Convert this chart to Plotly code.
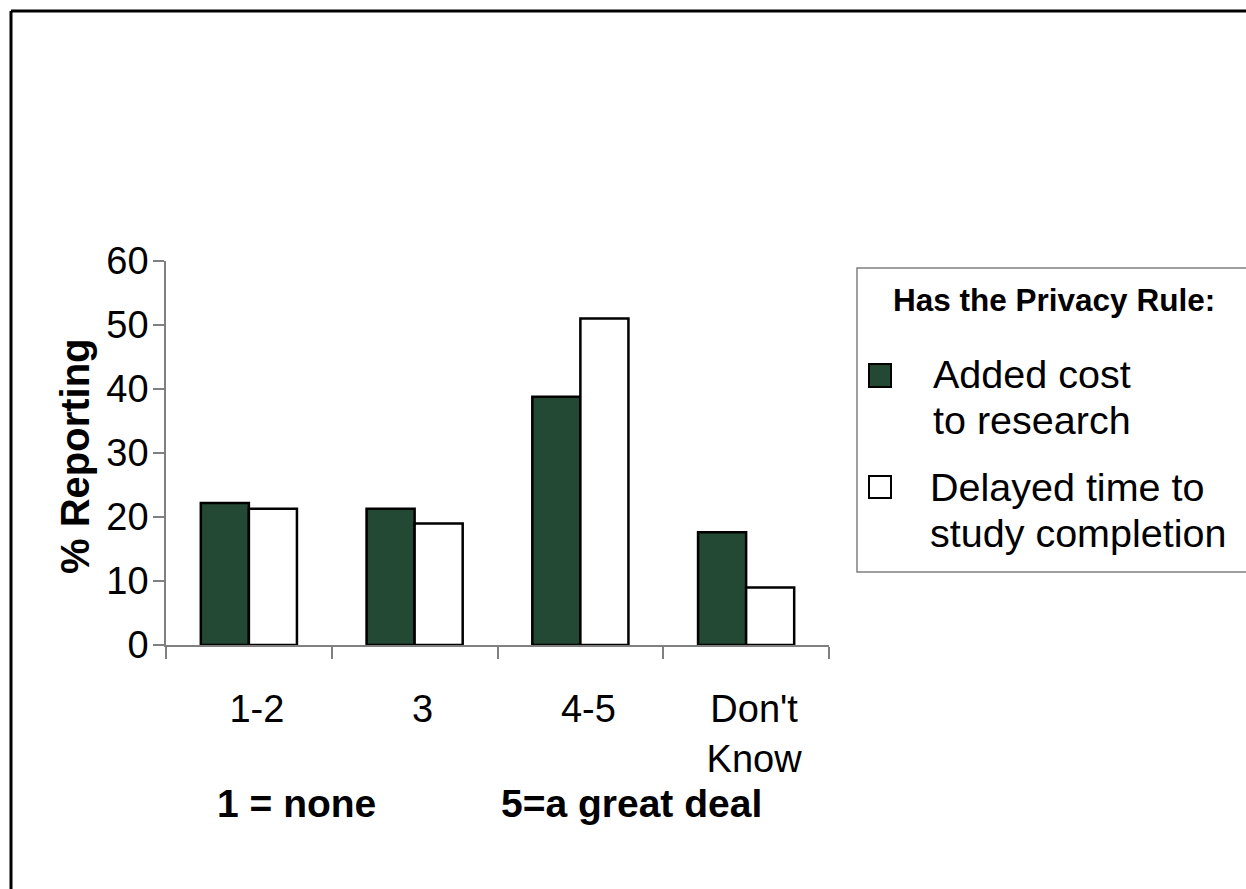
import plotly.graph_objects as go

# Survey responses: share of respondents per rating band
categories = ["1-2", "3", "4-5", "Don't<br>Know"]
added_cost = [22.2, 21.3, 38.8, 17.6]
delayed_time = [21.3, 19.0, 51.0, 9.0]
y_ticks = [0, 10, 20, 30, 40, 50, 60]

series_names = ["Added cost to research", "Delayed time to study completion"]
legend_title = "Has the Privacy Rule:"
legend_lines = [["Added cost", "to research"], ["Delayed time to", "study completion"]]
scale_notes = ["1 = none", "5=a great deal"]

GREEN = "#234833"
FONT = "Liberation Sans, Arial, sans-serif"

W, H = 1246, 889
L, R, T, B = 166, 417, 261, 244
PW, PH = W - L - R, H - T - B


def px(x):
    return (x - L) / PW


def py(y):
    return (H - B - y) / PH


fig = go.Figure()
fig.add_trace(go.Bar(
    name=series_names[0], x=categories, y=added_cost,
    marker=dict(color=GREEN, line=dict(color="black", width=2.5)),
))
fig.add_trace(go.Bar(
    name=series_names[1], x=categories, y=delayed_time,
    marker=dict(color="white", line=dict(color="black", width=2.5)),
))

shapes = [
    # outer frame (left and top edges)
    dict(type="line", xref="paper", yref="paper", x0=px(11), x1=px(11), y0=py(11), y1=py(H + 20),
         line=dict(color="black", width=3)),
    dict(type="line", xref="paper", yref="paper", x0=px(11), x1=px(W + 20), y0=py(11), y1=py(11),
         line=dict(color="black", width=3)),
    # legend box
    dict(type="rect", xref="paper", yref="paper", x0=px(857), x1=px(W + 20), y0=py(268), y1=py(572),
         line=dict(color="#808080", width=1.5), fillcolor="rgba(0,0,0,0)"),
    # legend swatches
    dict(type="rect", xref="paper", yref="paper", x0=px(869), x1=px(891), y0=py(364), y1=py(387),
         line=dict(color="black", width=2), fillcolor=GREEN),
    dict(type="rect", xref="paper", yref="paper", x0=px(869), x1=px(891), y0=py(476), y1=py(498),
         line=dict(color="black", width=2), fillcolor="white"),
]

annotations = [
    dict(text="<b>% Reporting</b>", x=px(75), y=py(456), xref="paper", yref="paper",
         textangle=-90, showarrow=False, xanchor="center", yanchor="middle",
         font=dict(size=40, color="black", family=FONT)),
    dict(text=f"<b>{legend_title}</b>", x=px(1054), y=py(300), xref="paper", yref="paper",
         showarrow=False, xanchor="center", yanchor="middle",
         font=dict(size=31.5, color="black", family=FONT)),
    dict(text=f"<b>{scale_notes[0]}</b>", x=px(296), y=py(803), xref="paper", yref="paper",
         showarrow=False, xanchor="center", yanchor="middle",
         font=dict(size=39, color="black", family=FONT)),
    dict(text=f"<b>{scale_notes[1]}</b>", x=px(631), y=py(803), xref="paper", yref="paper",
         showarrow=False, xanchor="center", yanchor="middle",
         font=dict(size=39, color="black", family=FONT)),
]

# legend text lines (left-aligned beside each swatch)
line_pos = [[(931, 374), (931, 420)], [(928, 487), (928, 533)]]
for lines, positions in zip(legend_lines, line_pos):
    for text, (lx, ly) in zip(lines, positions):
        annotations.append(dict(text=text, x=px(lx), y=py(ly), xref="paper", yref="paper",
                                showarrow=False, xanchor="left", yanchor="middle",
                                font=dict(size=39.5, color="black", family=FONT)))

fig.update_layout(
    width=W, height=H,
    margin=dict(l=L, r=R, t=T, b=B, autoexpand=False),
    paper_bgcolor="white", plot_bgcolor="white",
    barmode="group", bargap=0.42, bargroupgap=0,
    showlegend=False,
    font=dict(family=FONT, color="black"),
    shapes=shapes, annotations=annotations,
)
fig.update_xaxes(
    type="category", showline=True, linecolor="#808080", linewidth=1.5,
    ticks="outside", tickson="boundaries", ticklen=12, tickcolor="#808080", tickwidth=1.5,
    tickfont=dict(size=38, family=FONT, color="black"), ticklabelshift=8, ticklabelstandoff=30,
    showgrid=False, zeroline=False, automargin=False,
)
fig.update_yaxes(
    range=[0, 60], tickvals=y_ticks, showline=True, linecolor="#808080", linewidth=1.5,
    ticks="outside", ticklen=11, tickcolor="#808080", tickwidth=1.5,
    tickfont=dict(size=38, family=FONT, color="black"), ticklabelstandoff=-3,
    showgrid=False, zeroline=False, automargin=False,
)

fig.write_html("out.html")
